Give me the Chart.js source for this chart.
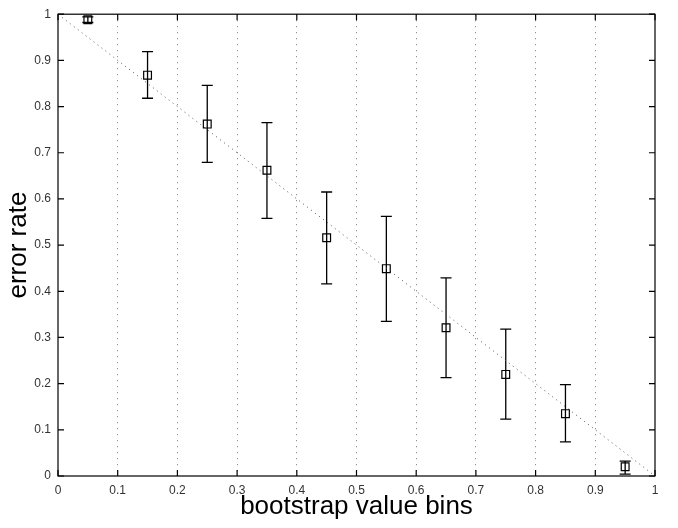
<!DOCTYPE html>
<html>
<head>
<meta charset="utf-8">
<script src="https://cdn.jsdelivr.net/npm/chart.js@4"></script>
<style>
  html, body { margin: 0; padding: 0; background: #fff; }
  #wrap { width: 678px; height: 528px; }
</style>
</head>
<body>
<div id="wrap"><canvas id="errChart" width="678" height="528"></canvas></div>
<script>
// bins on the x axis and the measured error rate for each
const bins = [0.05, 0.15, 0.25, 0.35, 0.45, 0.55, 0.65, 0.75, 0.85, 0.95];
const errorRate = [0.988, 0.868, 0.762, 0.662, 0.516, 0.449, 0.321, 0.220, 0.135, 0.020];
const errUpper = [0.994, 0.919, 0.846, 0.765, 0.615, 0.562, 0.429, 0.318, 0.198, 0.032];
const errLower = [0.982, 0.818, 0.679, 0.558, 0.416, 0.335, 0.213, 0.123, 0.074, 0.004];
// ideal line y = 1 - x
const idealX = [0, 1];
const idealY = [1, 0];
const xTicks = [0, 0.1, 0.2, 0.3, 0.4, 0.5, 0.6, 0.7, 0.8, 0.9, 1];
const yTicks = [0, 0.1, 0.2, 0.3, 0.4, 0.5, 0.6, 0.7, 0.8, 0.9, 1];

const fmt = (v) => String(+Number(v).toFixed(1));

// error bars + matlab style box with inward ticks
const errorBars = {
    id: 'errorBars',
    beforeDatasetsDraw(chart) {
        const ctx = chart.ctx;
        const x = chart.scales.x, y = chart.scales.y;
        ctx.save();
        ctx.strokeStyle = '#000';
        ctx.lineWidth = 1.3;
        bins.forEach((b, i) => {
            const px = x.getPixelForValue(b);
            const top = y.getPixelForValue(errUpper[i]);
            const bot = y.getPixelForValue(errLower[i]);
            ctx.beginPath();
            ctx.moveTo(px, top); ctx.lineTo(px, bot);
            ctx.moveTo(px - 5.5, top); ctx.lineTo(px + 5.5, top);
            ctx.moveTo(px - 5.5, bot); ctx.lineTo(px + 5.5, bot);
            ctx.stroke();
        });
        ctx.restore();
    },
    afterDraw(chart) {
        const ctx = chart.ctx;
        const {left, right, top, bottom} = chart.chartArea;
        const x = chart.scales.x, y = chart.scales.y;
        ctx.save();
        ctx.strokeStyle = '#000';
        ctx.lineWidth = 1.2;
        ctx.strokeRect(left, top, right - left, bottom - top);
        ctx.beginPath();
        xTicks.forEach(t => {
            const px = x.getPixelForValue(t);
            ctx.moveTo(px, bottom); ctx.lineTo(px, bottom - 6);
            ctx.moveTo(px, top); ctx.lineTo(px, top + 6);
        });
        yTicks.forEach(t => {
            const py = y.getPixelForValue(t);
            ctx.moveTo(left, py); ctx.lineTo(left + 6, py);
            ctx.moveTo(right, py); ctx.lineTo(right - 6, py);
        });
        ctx.stroke();
        ctx.restore();
    }
};

const ctx = document.getElementById('errChart').getContext('2d');
new Chart(ctx, {
    type: 'scatter',
    data: {
        datasets: [{
            label: 'error rate',
            data: bins.map((b, i) => ({x: b, y: errorRate[i]})),
            pointStyle: 'rect',
            pointRadius: 5.5,
            pointBorderWidth: 1.2,
            borderColor: '#000',
            backgroundColor: 'rgba(0,0,0,0)',
            showLine: false
        }, {
            label: 'ideal',
            type: 'line',
            data: idealX.map((v, i) => ({x: v, y: idealY[i]})),
            borderColor: '#555',
            borderWidth: 1,
            borderDash: [1, 4],
            pointRadius: 0,
            fill: false
        }]
    },
    options: {
        responsive: false,
        animation: false,
        layout: { padding: { top: 6, right: 23, left: 0, bottom: 0 } },
        plugins: { legend: { display: false }, tooltip: { enabled: false } },
        scales: {
            x: {
                type: 'linear', min: 0, max: 1,
                afterFit: (s) => { s.height = 52; },
                ticks: { stepSize: 0.1, padding: 7, color: '#333', callback: fmt,
                         font: { family: 'Liberation Sans', size: 12 } },
                grid: {
                    drawTicks: false,
                    color: (c) => (c.tick && (c.tick.value === 0 || c.tick.value === 1)) ? 'rgba(0,0,0,0)' : '#777',
                    lineWidth: 1
                },
                border: { display: false, dash: [1, 5] },
                title: { display: true, text: 'bootstrap value bins', color: '#000', padding: { top: 0, bottom: 6 },
                         font: { family: 'Liberation Sans', size: 26 } }
            },
            y: {
                type: 'linear', min: 0, max: 1,
                afterFit: (s) => { s.width = 58; },
                ticks: { stepSize: 0.1, padding: 7, color: '#333', callback: fmt,
                         font: { family: 'Liberation Sans', size: 12 } },
                grid: { display: false, drawTicks: false },
                border: { display: false },
                title: { display: true, text: 'error rate', color: '#000', padding: { top: 3, bottom: 0 },
                         font: { family: 'Liberation Sans', size: 26 } }
            }
        }
    },
    plugins: [errorBars]
});
</script>
</body>
</html>
